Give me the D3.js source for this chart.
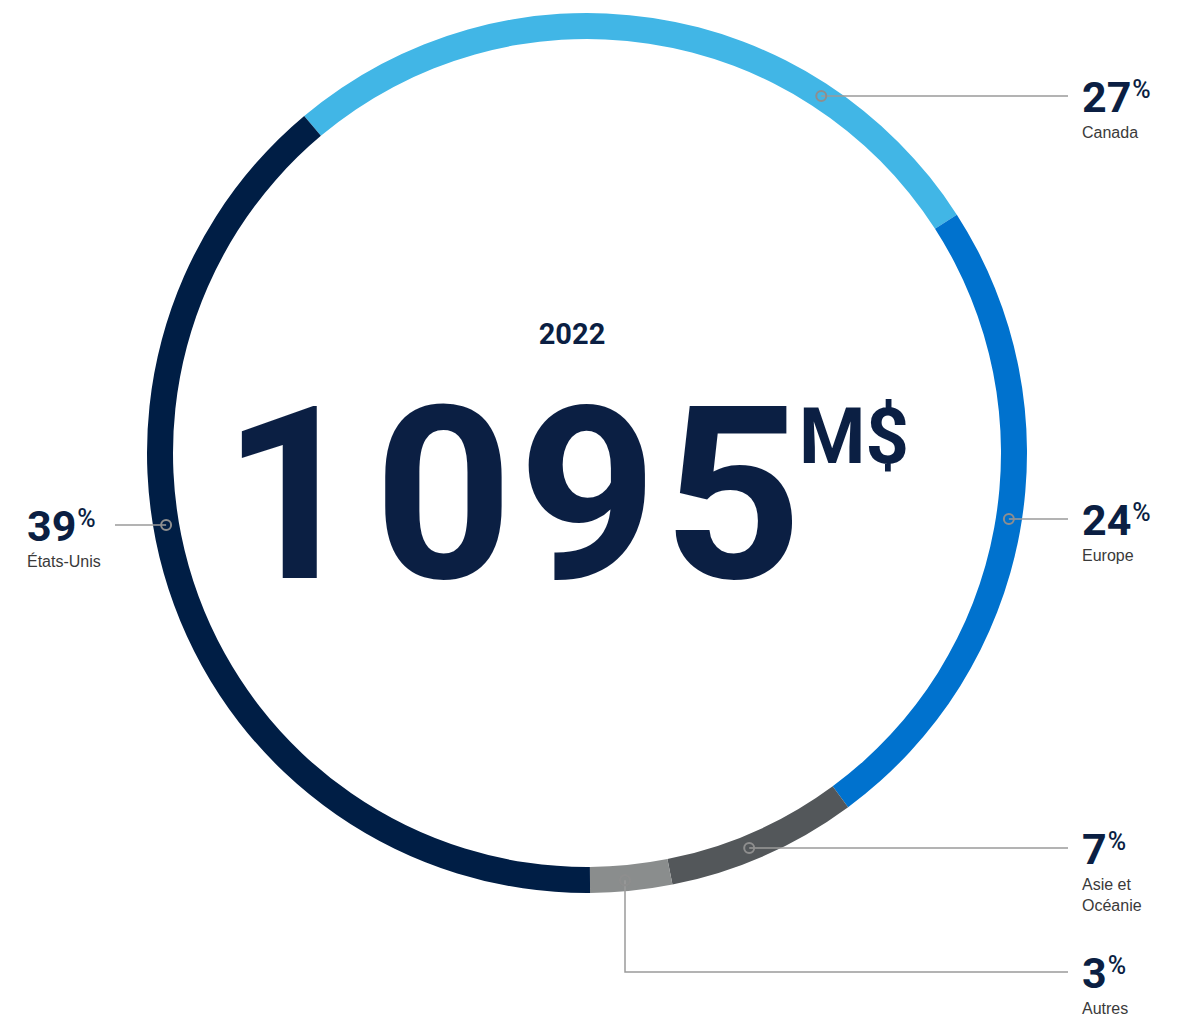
<!DOCTYPE html>
<html>
<head>
<meta charset="utf-8">
<script src="https://cdn.jsdelivr.net/npm/d3@7"></script>
<style>
  html, body { margin: 0; padding: 0; background: #fff; }
  svg { display: block; }
</style>
</head>
<body>
<div id="container"></div>
<script>
/* DATA */
const regions = ["Canada", "Europe", "Asie et Océanie", "Autres", "États-Unis"];
const shares = [27, 24, 7, 3, 39];
const regionLines = [["Canada"], ["Europe"], ["Asie et", "Océanie"], ["Autres"], ["États-Unis"]];
const colors = ["#41b6e6", "#0072ce", "#53575a", "#8a8d8d", "#001e45"];
const year = "2022";
const total = ["1", "095"];
const unit = "M$";

/* LAYOUT */
const width = 1183, height = 1017;
const cx = 587, cy = 453;
const rOuter = 440, rInner = 414, rDot = (rOuter + rInner) / 2;
const startDeg = -40;
// where each leader line goes
const callouts = [
  {side: "right", y: 96},
  {side: "right", y: 519},
  {side: "right", y: 848},
  {side: "bottom", x: 625, y: 972},
  {side: "left", y: 525}
];
const navy = "#0b1f43";
const numFont = "Roboto, 'Open Sans', sans-serif";
const textFont = "'Liberation Sans', Arial, sans-serif";

const svg = d3.select("#container").append("svg")
  .attr("width", width)
  .attr("height", height);

/* RING */
const pie = d3.pie()
  .sort(null)
  .value(d => d)
  .startAngle(startDeg * Math.PI / 180)
  .endAngle(startDeg * Math.PI / 180 + 2 * Math.PI);

const arc = d3.arc().innerRadius(rInner).outerRadius(rOuter);

const ring = svg.append("g").attr("transform", `translate(${cx},${cy})`);
ring.selectAll("path")
  .data(pie(shares))
  .join("path")
  .attr("d", arc)
  .attr("fill", (d, i) => colors[i]);

/* CENTER TEXT */
svg.append("text")
  .attr("x", 572).attr("y", 344)
  .attr("text-anchor", "middle")
  .attr("font-family", numFont)
  .attr("font-weight", 700)
  .attr("font-size", 29)
  .attr("fill", navy)
  .text(year);

svg.append("text")
  .attr("x", 222).attr("y", 578)
  .attr("font-family", numFont)
  .attr("font-weight", 700)
  .attr("font-size", 242)
  .attr("fill", navy)
  .text(total[0]);

svg.append("text")
  .attr("x", 374).attr("y", 578)
  .attr("font-family", numFont)
  .attr("font-weight", 700)
  .attr("font-size", 242)
  .attr("fill", navy)
  .attr("textLength", 428)
  .attr("lengthAdjust", "spacing")
  .text(total[1]);

svg.append("text")
  .attr("x", 799).attr("y", 463)
  .attr("font-family", numFont)
  .attr("font-weight", 700)
  .attr("font-size", 77)
  .attr("fill", navy)
  .attr("textLength", 110)
  .attr("lengthAdjust", "spacingAndGlyphs")
  .text(unit);

/* CALLOUTS */
const leaders = svg.append("g");
const labels = svg.append("g");

pie(shares).forEach((d, i) => {
  const c = callouts[i];
  let dx, dy, pts;
  if (c.side === "bottom") {
    dx = c.x;
    dy = cy + Math.sqrt(rDot * rDot - (c.x - cx) ** 2) + 2;
    pts = [[dx, dy], [dx, c.y], [1068, c.y]];
  } else {
    const off = Math.sqrt(rDot * rDot - (c.y - cy) ** 2);
    dy = c.y;
    dx = c.side === "right" ? cx + off : cx - off;
    pts = c.side === "right" ? [[dx, dy], [1068, dy]] : [[dx, dy], [115, dy]];
  }

  leaders.append("path")
    .attr("d", d3.line()(pts))
    .attr("fill", "none")
    .attr("stroke", "#9a9a9a")
    .attr("stroke-width", 1.5);

  leaders.append("circle")
    .attr("cx", dx).attr("cy", dy)
    .attr("r", 5)
    .attr("fill", "none")
    .attr("stroke", "#8e8e8e")
    .attr("stroke-width", 2);

  const lx = c.side === "left" ? 27 : 1082;
  const base = c.y + 15.5;

  const num = labels.append("text")
    .attr("x", lx).attr("y", base)
    .attr("font-family", numFont)
    .attr("font-weight", 700)
    .attr("font-size", 43)
    .attr("fill", navy);
  num.append("tspan").text(shares[i]);
  num.append("tspan")
    .attr("font-size", 25)
    .attr("font-weight", 500)
    .attr("dy", -14)
    .attr("dx", 1)
    .text("%");

  regionLines[i].forEach((t, j) => {
    labels.append("text")
      .attr("x", lx)
      .attr("y", base + 26 + j * 21)
      .attr("font-family", textFont)
      .attr("font-size", 16)
      .attr("fill", "#3a3a3a")
      .text(t);
  });
});
</script>
</body>
</html>
